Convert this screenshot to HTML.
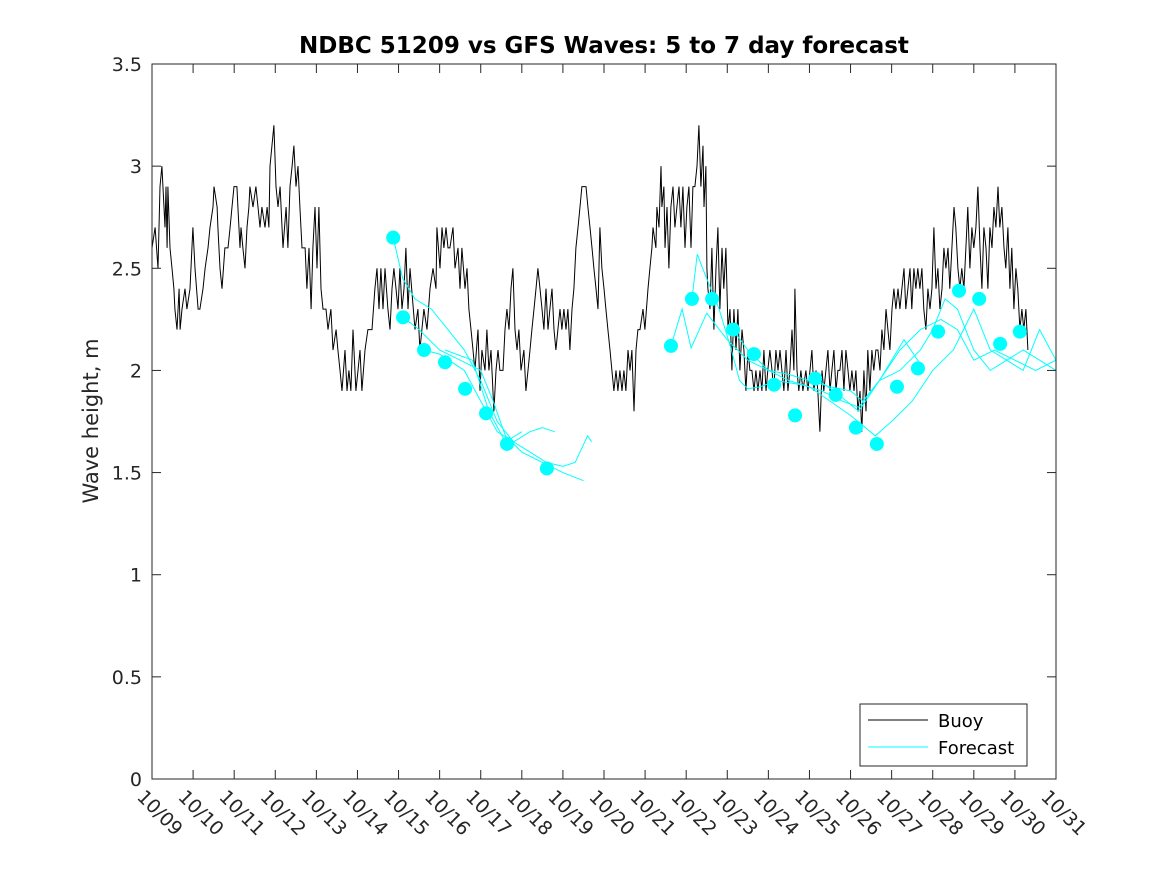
<!DOCTYPE html>
<html><head><meta charset="utf-8"><style>
body{margin:0;background:#fff}
svg text{font-family:"DejaVu Sans","Liberation Sans",sans-serif}
</style></head><body>
<svg id="chart" width="1167" height="875">
<rect x="0" y="0" width="1167" height="875" fill="#fff"/>
<g id="marks"></g>
<g id="axes"></g>
</svg>
<script>
const yTicks=[0,0.5,1,1.5,2,2.5,3,3.5];
const xTickLabels=["10/09","10/10","10/11","10/12","10/13","10/14","10/15","10/16","10/17","10/18","10/19","10/20","10/21","10/22","10/23","10/24","10/25","10/26","10/27","10/28","10/29","10/30","10/31"];
// buoy observations: hours since 10/09 00:00 and wave height (m)
const buoyHours=[0,1.8,3.5,4.7,5.8,7.6,8.2,8.8,9.3,10.5,11.7,12.8,13.4,14.6,15.8,16.4,17.5,19.3,20.4,22.2,23.9,25.1,26.9,28.0,29.8,31.0,32.7,33.9,35.6,36.2,38.0,38.5,39.7,40.9,42.6,44.4,45.6,46.7,47.9,49.6,50.2,51.4,52.0,53.1,54.3,55.5,56.6,57.2,59.0,60.7,61.9,63.1,64.2,66.0,67.2,68.3,68.9,71.2,72.4,73.6,74.8,76.5,78.3,79.4,80.6,81.8,82.9,84.1,85.3,86.4,87.6,89.4,90.5,91.7,92.9,94.0,95.2,96.4,97.5,98.7,99.9,101.6,102.8,104.5,105.7,107.5,108.6,109.8,111.0,112.7,113.9,115.0,116.2,117.4,119.1,120.3,121.5,122.6,124.4,126.1,128.5,130.2,131.4,132.6,133.7,134.9,136.1,137.8,139.0,140.2,141.3,142.5,143.7,144.8,146.0,147.2,148.3,149.5,150.7,153.6,155.3,156.5,158.8,160.6,162.4,164.1,165.9,166.4,168.2,169.4,170.5,171.7,172.9,174.0,175.8,177.0,178.7,179.9,181.0,182.8,184.0,185.1,186.3,187.5,188.6,190.4,191.6,192.7,194.5,195.6,196.8,198.0,199.7,200.9,202.1,203.2,205.0,206.2,207.3,208.5,209.7,210.8,212.0,213.2,214.3,215.5,217.2,218.4,219.6,220.8,221.9,223.1,224.3,225.4,226.6,227.8,228.9,230.1,231.3,232.4,233.6,234.8,235.9,237.1,238.3,239.4,240.6,241.8,242.9,244.1,245.3,246.4,247.6,248.8,250.0,251.1,252.3,253.5,254.6,255.8,257.0,258.1,259.3,260.5,261.6,262.8,264.0,265.1,266.3,267.5,268.6,269.8,271.0,272.1,273.3,274.5,275.6,276.8,278.0,279.2,280.3,281.5,282.7,283.8,285.0,286.8,287.9,289.7,290.8,292.0,292.6,294.3,294.9,296.1,297.3,297.8,299.0,299.6,300.8,301.9,303.1,304.3,305.4,306.6,307.8,308.9,310.1,311.3,312.4,313.6,314.8,315.9,317.1,318.3,319.4,320.6,321.8,322.4,323.5,324.1,324.7,325.9,327.0,328.2,329.4,330.5,331.7,332.9,334.0,335.2,336.4,337.6,338.7,339.9,341.1,342.2,343.4,344.6,345.7,346.9,348.1,349.2,350.4,351.6,352.7,353.9,355.1,356.2,357.4,358.6,359.7,360.9,362.1,363.2,364.4,365.6,366.8,367.9,369.1,370.3,371.4,372.6,373.8,374.9,375.5,376.7,377.8,379.0,380.2,381.9,383.1,384.3,385.4,386.6,387.8,388.9,390.1,391.3,392.4,393.6,394.8,396.0,397.1,398.3,399.5,400.6,401.8,403.0,404.1,405.3,406.5,407.6,408.8,410.0,411.1,412.3,413.5,414.6,415.8,417.0,418.1,419.3,420.5,421.6,422.8,424.0,425.2,426.3,427.5,428.7,429.8,431.0,432.2,433.3,434.5,435.7,436.8,438.0,439.2,440.3,441.5,442.7,443.8,445.0,446.2,447.3,448.5,449.7,450.8,452.0,453.2,454.4,455.5,456.7,457.9,459.0,460.2,461.4,462.5,463.7,464.9,466.0,467.2,468.4,469.5,470.7,471.9,473.0,474.2,475.4,476.5,477.7,478.9,480.0,481.2,482.4,483.6,484.7,485.9,487.1,488.2,489.4,490.6,491.7,492.9,494.1,495.2,496.4,497.6,498.7,499.9,501.1,502.2,503.4,504.6,505.7,506.9,508.1,509.2,510.4,511.6];
const buoyValues=[2.6,2.7,2.5,2.9,3.0,2.7,2.9,2.6,2.9,2.6,2.5,2.4,2.3,2.2,2.4,2.2,2.3,2.4,2.3,2.4,2.7,2.5,2.3,2.3,2.4,2.5,2.6,2.7,2.8,2.9,2.8,2.7,2.5,2.4,2.6,2.6,2.7,2.8,2.9,2.9,2.8,2.6,2.7,2.6,2.5,2.7,2.8,2.9,2.8,2.9,2.8,2.7,2.8,2.7,2.8,2.7,3.0,3.2,2.9,2.8,2.9,2.6,2.8,2.6,2.9,3.0,3.1,2.9,3.0,2.8,2.6,2.6,2.4,2.6,2.3,2.6,2.8,2.5,2.8,2.4,2.3,2.3,2.2,2.3,2.1,2.2,2.1,2.0,1.9,2.1,1.9,2.0,1.9,2.2,1.9,2.0,2.1,1.9,2.1,2.2,2.2,2.4,2.5,2.3,2.5,2.3,2.5,2.3,2.2,2.4,2.5,2.4,2.3,2.5,2.3,2.4,2.6,2.3,2.5,2.2,2.3,2.1,2.3,2.2,2.4,2.5,2.4,2.7,2.5,2.7,2.6,2.7,2.6,2.6,2.7,2.5,2.6,2.4,2.6,2.4,2.5,2.3,2.2,2.1,2.0,2.2,1.9,2.1,2.0,2.2,2.0,2.1,1.8,2.0,2.1,2.0,2.0,2.2,2.3,2.2,2.4,2.5,2.2,2.1,2.2,2.0,2.1,1.9,2.0,2.1,2.2,2.3,2.4,2.5,2.4,2.3,2.2,2.4,2.2,2.3,2.4,2.2,2.1,2.2,2.3,2.2,2.3,2.2,2.3,2.1,2.3,2.4,2.6,2.7,2.8,2.9,2.9,2.9,2.8,2.7,2.6,2.5,2.4,2.3,2.7,2.5,2.4,2.3,2.2,2.1,2.0,1.9,2.0,1.9,2.0,1.9,2.0,1.9,2.1,2.0,2.1,1.8,2.1,2.2,2.2,2.3,2.2,2.4,2.5,2.6,2.7,2.6,2.8,2.7,3.0,2.8,2.9,2.6,2.8,2.5,2.8,2.9,2.7,2.8,2.9,2.7,2.9,2.6,2.8,2.9,2.6,2.9,2.9,3.0,3.2,2.9,3.1,2.8,3.0,2.5,2.4,2.3,2.6,2.2,2.5,2.7,2.3,2.6,2.4,2.6,2.2,2.3,2.0,2.3,2.1,2.3,2.0,2.2,2.1,1.9,2.1,2.0,2.0,1.9,2.0,1.9,2.0,1.9,2.1,1.9,2.0,2.1,2.0,1.9,2.1,2.0,2.1,2.0,1.9,2.1,1.9,2.0,2.2,2.0,2.4,2.0,1.9,2.0,1.9,2.0,1.9,2.0,2.1,1.9,2.0,1.9,1.7,2.0,1.9,2.0,2.1,1.9,2.0,2.1,1.9,2.0,2.0,2.1,1.9,2.1,2.0,1.9,2.0,1.9,2.0,1.8,1.9,1.7,2.0,1.8,2.1,1.9,2.1,2.0,2.1,2.1,2.0,2.2,2.1,2.3,2.2,2.1,2.3,2.4,2.3,2.4,2.3,2.4,2.5,2.3,2.4,2.5,2.3,2.5,2.4,2.5,2.4,2.5,2.3,2.2,2.4,2.3,2.4,2.7,2.4,2.5,2.3,2.4,2.6,2.5,2.6,2.4,2.6,2.8,2.7,2.5,2.4,2.5,2.4,2.6,2.8,2.5,2.7,2.6,2.7,2.9,2.6,2.4,2.7,2.6,2.4,2.7,2.6,2.8,2.7,2.9,2.7,2.8,2.6,2.5,2.7,2.4,2.6,2.3,2.5,2.4,2.2,2.3,2.2,2.3,2.1];
const dotDays=[5.87,6.11,6.62,7.13,7.62,8.13,8.64,9.61,12.63,13.14,13.63,14.14,14.65,15.14,15.65,16.14,16.64,17.13,17.64,18.13,18.64,19.13,19.64,20.13,20.64,21.12];
const dotValues=[2.65,2.26,2.10,2.04,1.91,1.79,1.64,1.52,2.12,2.35,2.35,2.20,2.08,1.93,1.78,1.96,1.88,1.72,1.64,1.92,2.01,2.19,2.39,2.35,2.13,2.19];
const fcA_days=[5.87,6.1,6.4,6.8,7.2,7.6,8.0,8.4,8.8,9.2,9.6,10.0,10.3,10.6,10.7];
const fcA_vals=[2.65,2.45,2.35,2.3,2.2,2.1,1.95,1.75,1.65,1.6,1.55,1.53,1.55,1.68,1.65];
const fcB_days=[6.11,6.5,7.0,7.5,8.0,8.3,8.6,9.0,9.5,10.0,10.5];
const fcB_vals=[2.26,2.2,2.1,2.05,2.0,1.85,1.68,1.6,1.55,1.5,1.46];
const fcC_days=[6.62,7.0,7.6,8.0,8.4,8.8,9.2,9.5,9.8];
const fcC_vals=[2.1,2.08,2.0,1.85,1.7,1.65,1.7,1.72,1.7];
const fcD_days=[7.13,7.8,8.2,8.6,9.0];
const fcD_vals=[2.1,2.05,1.8,1.65,1.7];
const fcE_days=[12.63,12.9,13.12,13.5,14.0,14.5,15.0,15.5,16.0,16.5,17.0,17.3,17.7,18.2,18.7,19.0,19.3,19.6,20.0,20.4,20.8,21.2,21.6,22.0];
const fcE_vals=[2.12,2.3,2.11,2.28,2.15,2.05,2.0,1.98,1.95,1.92,1.9,1.85,1.95,2.0,2.1,2.2,2.35,2.3,2.1,2.0,2.05,2.1,2.05,2.0];
const fcF_days=[13.14,13.27,13.4,13.8,14.1,14.3,14.5,14.8,15.2,15.8,16.3,16.8,17.2,17.7,18.2,18.7,19.2,19.6,20.0,20.5,21.0,21.5,22.0];
const fcF_vals=[2.35,2.57,2.5,2.3,2.1,1.95,1.91,1.92,1.95,1.93,1.9,1.85,1.82,1.95,2.1,2.2,2.25,2.2,2.05,2.1,2.05,2.0,2.05];
const fcG_days=[14.14,14.5,15.0,15.5,16.0,16.5,17.0,17.6,18.0,18.5,19.0,19.5,20.0,20.4,20.8,21.2,21.6,22.0];
const fcG_vals=[2.2,2.1,2.0,1.95,1.92,1.85,1.78,1.68,1.75,1.85,2.0,2.1,2.3,2.1,2.05,2.0,2.2,2.05];
const fcH_days=[16.14,16.6,17.2,17.7,18.3,18.8];
const fcH_vals=[1.96,1.9,1.8,1.95,2.15,2.0];

const X0=152,X1=1056,Y0=779,Y1=64;
const xs=d=>X0+(X1-X0)*d/22;
const ys=v=>Y0-(Y0-Y1)*v/3.5;
const NS="http://www.w3.org/2000/svg";
const marks=document.getElementById('marks'),axes=document.getElementById('axes');
function mk(t,a,p){const e=document.createElementNS(NS,t);for(const k in a)e.setAttribute(k,a[k]);p.appendChild(e);return e;}

const bp=buoyValues.map((v,i)=>xs(buoyHours[i]/24).toFixed(1)+","+ys(v).toFixed(1)).join(" ");
const bl=mk('polyline',{points:bp,fill:'none',stroke:'#000','stroke-width':1,'stroke-linejoin':'miter'},marks);



const fcs=[[fcA_days,fcA_vals],[fcB_days,fcB_vals],[fcC_days,fcC_vals],[fcD_days,fcD_vals],[fcE_days,fcE_vals],[fcF_days,fcF_vals],[fcG_days,fcG_vals],[fcH_days,fcH_vals]];
fcs.forEach(([d,v])=>{
 const l=mk('polyline',{points:d.map((x,i)=>xs(x).toFixed(1)+","+ys(v[i]).toFixed(1)).join(" "),fill:'none',stroke:'#00ffff','stroke-width':1},marks);
 
 
});
dotDays.forEach((d,i)=>{
 const c=mk('circle',{cx:xs(d),cy:ys(dotValues[i]),r:7,fill:'#00ffff'},marks);
 
 
});

const box=mk('rect',{x:X0,y:Y1,width:X1-X0,height:Y0-Y1,fill:'none',stroke:'#262626','stroke-width':1},axes);


yTicks.forEach(v=>{
 const y=ys(v);
 mk('line',{x1:X0,x2:X0+9,y1:y,y2:y,stroke:'#262626'},axes);
 mk('line',{x1:X1,x2:X1-9,y1:y,y2:y,stroke:'#262626'},axes);
 const t=mk('text',{x:X0-10,y:y+7,'text-anchor':'end','font-size':19,fill:'#262626'},axes);
 t.textContent=v;
 
 
});
xTickLabels.forEach((s,i)=>{
 const x=xs(i);
 mk('line',{x1:x,x2:x,y1:Y0,y2:Y0-9,stroke:'#262626'},axes);
 mk('line',{x1:x,x2:x,y1:Y1,y2:Y1+9,stroke:'#262626'},axes);
 const t=mk('text',{x:0,y:0,'font-size':19,fill:'#262626',transform:`translate(${x-16},${Y0+19}) rotate(45)`},axes);
 t.textContent=s;
 
 
});
</script>
<svg style="position:absolute;left:0;top:0" width="1167" height="875">
<text x="604" y="53" text-anchor="middle" font-size="23" font-weight="bold" fill="#000">NDBC 51209 vs GFS Waves: 5 to 7 day forecast</text>
<text transform="translate(98,421) rotate(-90)" text-anchor="middle" font-size="21" fill="#262626">Wave height, m</text>
<g>
<rect x="860" y="704" width="167" height="62" fill="#fff" stroke="#262626"/>
<line x1="868" x2="928" y1="720" y2="720" stroke="#000"/>
<text x="938" y="727" font-size="18" fill="#000">Buoy</text>
<line x1="868" x2="928" y1="747" y2="747" stroke="#00ffff"/>
<text x="938" y="754" font-size="18" fill="#000">Forecast</text>
</g>
</svg>
</body></html>
